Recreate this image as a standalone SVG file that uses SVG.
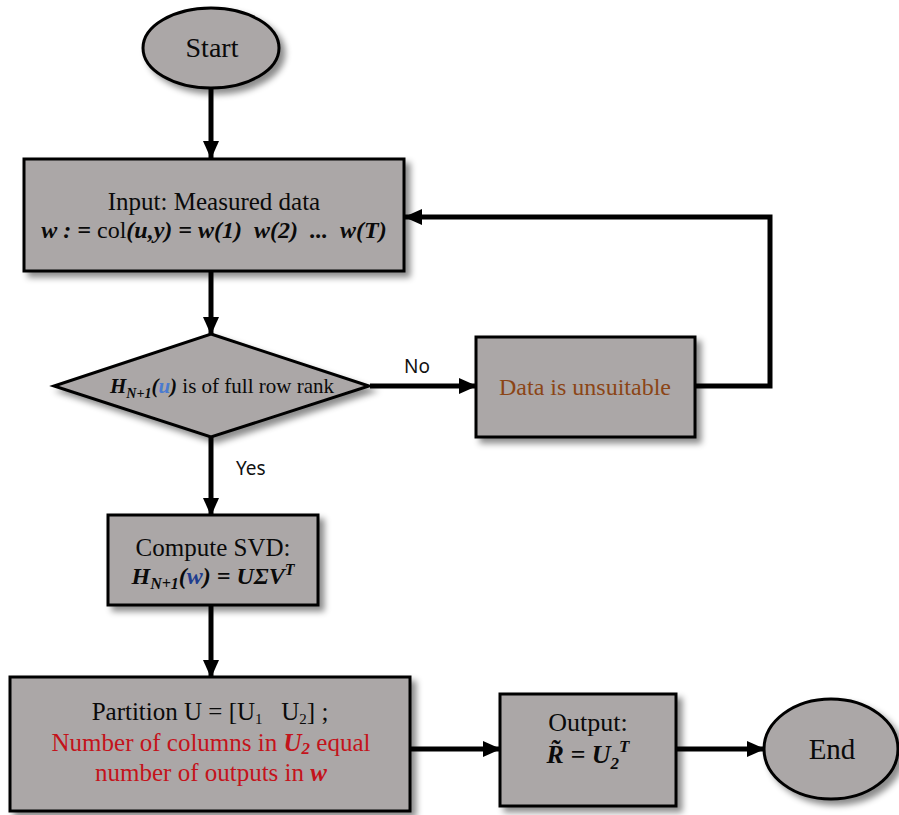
<svg xmlns="http://www.w3.org/2000/svg" width="899" height="815" viewBox="0 0 899 815">
  <style>
    .node { fill: #aba7a7; stroke: #000; stroke-width: 3; filter: url(#shadow); }
    .lbl { font-family: "Liberation Serif", "Times New Roman", serif; fill: #0a0a0a; text-anchor: middle; }
    .math { font-style: italic; font-weight: bold; }
    .red { fill: #c4131b; }
    .brown { fill: #8b4516; }
    .edge { fill: none; stroke: #000; stroke-width: 5; }
    .elbl { font-family: "Noto Sans", "DejaVu Sans", sans-serif; font-size: 19px; fill: #111; }
  </style>
  <defs>
    <filter id="shadow" x="-20%" y="-20%" width="150%" height="150%">
      <feDropShadow dx="5" dy="5" stdDeviation="3" flood-color="#000" flood-opacity="0.45"/>
    </filter>
    <marker id="arrow" markerUnits="userSpaceOnUse" markerWidth="18" markerHeight="18" viewBox="0 0 18 18" refX="17" refY="9" orient="auto">
      <path d="M0,1 L18,9 L0,17 z" fill="#000"/>
    </marker>
  </defs>

  <rect width="899" height="815" fill="#fff"/>

  <!-- connectors -->
  <g id="connectors">
    <line class="edge" x1="211" y1="88" x2="211" y2="158" marker-end="url(#arrow)"/>
    <line class="edge" x1="211" y1="272" x2="211" y2="334" marker-end="url(#arrow)"/>
    <line class="edge" x1="370" y1="386" x2="476" y2="386" marker-end="url(#arrow)"/>
    <polyline class="edge" points="696,386 770,386 770,217 405,217" marker-end="url(#arrow)"/>
    <line class="edge" x1="211" y1="437" x2="211" y2="515" marker-end="url(#arrow)"/>
    <line class="edge" x1="211" y1="606" x2="211" y2="677" marker-end="url(#arrow)"/>
    <line class="edge" x1="411" y1="749" x2="500" y2="749" marker-end="url(#arrow)"/>
    <line class="edge" x1="677" y1="749" x2="764" y2="749" marker-end="url(#arrow)"/>
    <text class="elbl" x="404" y="373">No</text>
    <text class="elbl" x="236" y="475">Yes</text>
  </g>

  <!-- start terminal -->
  <g id="start">
    <ellipse class="node" cx="211" cy="48" rx="68" ry="40"/>
    <text class="lbl" x="212" y="57" font-size="28">Start</text>
  </g>

  <!-- measured data input -->
  <g id="input">
    <rect class="node" x="24" y="159" width="380" height="112"/>
    <text class="lbl" x="214" y="210" font-size="25">Input: Measured data</text>
    <text class="lbl" x="214" y="238" font-size="24" xml:space="preserve"><tspan class="math">w : =</tspan> col<tspan class="math">(u,y) = w(1)  w(2)  ...  w(T)</tspan></text>
  </g>

  <!-- rank condition -->
  <g id="rank-check">
    <polygon class="node" points="211,334 369,386 211,437 54,386"/>
    <text class="lbl" x="222" y="393" font-size="21"><tspan class="math">H</tspan><tspan class="math" font-size="14" dy="5">N+1</tspan><tspan class="math" dy="-5">(</tspan><tspan class="math" fill="#4a7bd0">u</tspan><tspan class="math">)</tspan> is of full row rank</text>
  </g>

  <!-- rejection -->
  <g id="unsuitable">
    <rect class="node" x="476" y="337" width="219" height="100"/>
    <text class="lbl brown" x="585" y="395" font-size="24">Data is unsuitable</text>
  </g>

  <!-- SVD step -->
  <g id="svd">
    <rect class="node" x="108" y="515" width="210" height="90"/>
    <text class="lbl" x="213" y="556" font-size="25">Compute SVD:</text>
    <text class="lbl" x="213" y="584" font-size="24"><tspan class="math">H</tspan><tspan class="math" font-size="16" dy="5">N+1</tspan><tspan class="math" dy="-5">(</tspan><tspan class="math" fill="#1f3d8f">w</tspan><tspan class="math">) = UΣV</tspan><tspan class="math" font-size="16" dy="-9">T</tspan></text>
  </g>

  <!-- partition step -->
  <g id="partition">
    <rect class="node" x="10" y="677" width="400" height="134"/>
    <text class="lbl" x="210" y="720" font-size="25" xml:space="preserve">Partition U = [U<tspan font-size="15" dy="4">1</tspan><tspan dy="-4">   U</tspan><tspan font-size="15" dy="4">2</tspan><tspan dy="-4">] ;</tspan></text>
    <text class="lbl red" x="211" y="751" font-size="25">Number of columns in <tspan class="math">U</tspan><tspan class="math" font-size="17" dy="3">2</tspan><tspan dy="-3"> equal</tspan></text>
    <text class="lbl red" x="211" y="781" font-size="25">number of outputs in <tspan class="math">w</tspan></text>
  </g>

  <!-- output -->
  <g id="output">
    <rect class="node" x="500" y="694" width="176" height="112"/>
    <text class="lbl" x="588" y="731" font-size="26">Output:</text>
    <text class="lbl" x="588" y="763" font-size="26"><tspan class="math">R̃ = U</tspan><tspan class="math" font-size="17" dy="6">2</tspan><tspan class="math" font-size="17" dy="-17">T</tspan></text>
  </g>

  <!-- end terminal -->
  <g id="end">
    <ellipse class="node" cx="831" cy="749" rx="67" ry="50"/>
    <text class="lbl" x="832" y="759" font-size="29">End</text>
  </g>
</svg>
